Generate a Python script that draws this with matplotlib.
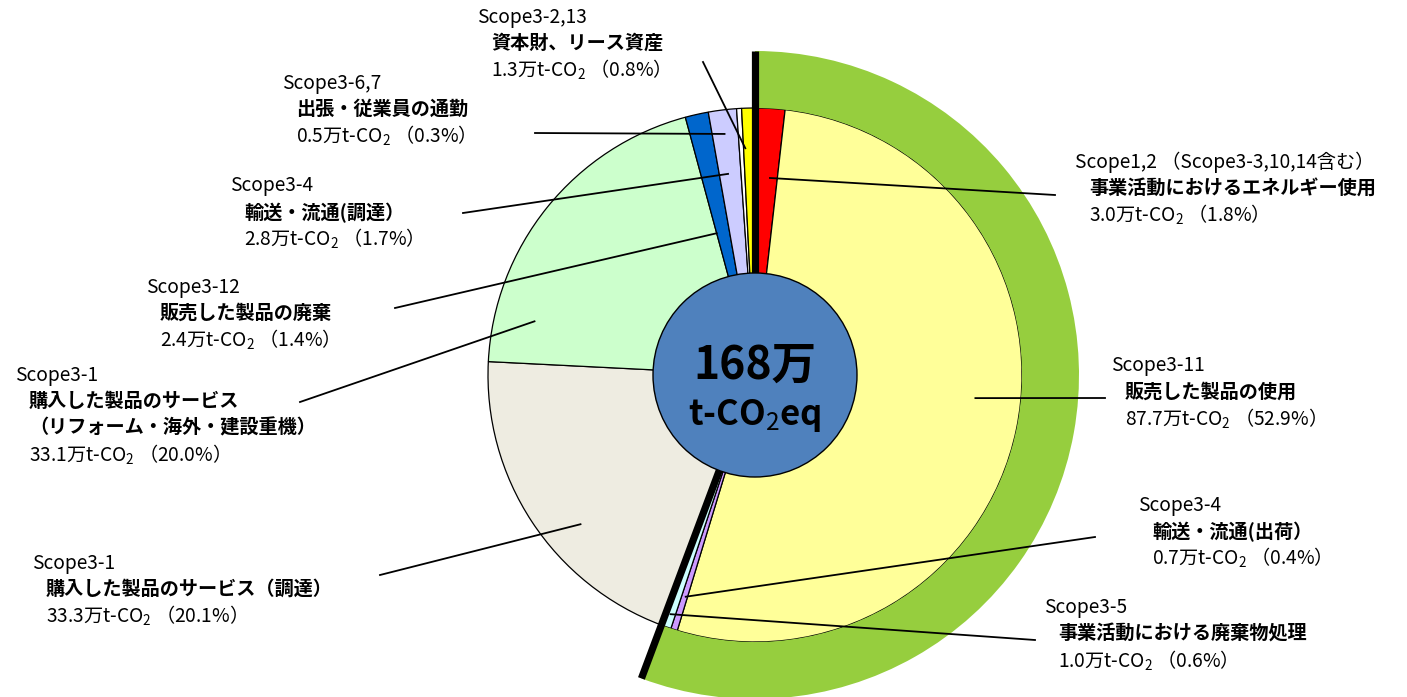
import matplotlib
matplotlib.use("Agg")
import matplotlib.pyplot as plt
from matplotlib.patches import Wedge, Circle
import numpy as np

plt.rcParams['font.family'] = ['Noto Sans CJK JP', 'DejaVu Sans']
plt.rcParams['mathtext.fontset'] = 'custom'
plt.rcParams['mathtext.rm'] = 'Noto Sans CJK JP'
plt.rcParams['mathtext.default'] = 'rm'

# shares in %, clockwise from the top
scopes = ["Scope1,2 （Scope3-3,10,14含む）", "Scope3-11", "Scope3-4", "Scope3-5",
          "Scope3-1", "Scope3-1", "Scope3-12", "Scope3-4", "Scope3-6,7", "Scope3-2,13"]
names = ["事業活動におけるエネルギー使用", "販売した製品の使用", "輸送・流通(出荷）",
         "事業活動における廃棄物処理", "購入した製品のサービス（調達）",
         "購入した製品のサービス\n（リフォーム・海外・建設重機）", "販売した製品の廃棄",
         "輸送・流通(調達）", "出張・従業員の通勤", "資本財、リース資産"]
amounts = ["3.0", "87.7", "0.7", "1.0", "33.3", "33.1", "2.4", "2.8", "0.5", "1.3"]
shares = [1.8, 52.9, 0.4, 0.6, 20.1, 20.0, 1.4, 1.7, 0.3, 0.8]
colors = ["#FF0000", "#FFFF99", "#CC99FF", "#CCFFFF", "#EEECE1",
          "#CCFFCC", "#0066CC", "#CCCCFF", "#FFFFFF", "#FFFF00"]
downstream = [0, 1, 2, 3]  # slices under the green ring
total = "168万"

W, H = 1407, 697
fig = plt.figure(figsize=(W / 100, H / 100), dpi=100)
ax = fig.add_axes([0, 0, 1, 1])

cx, cy = 755, H - 375
R = 267
R_out = 324

wedges, _ = ax.pie(shares, colors=colors, startangle=90, counterclock=False,
                   radius=R, center=(cx, cy),
                   wedgeprops=dict(edgecolor="black", linewidth=0.9))

# green ring over the downstream part
down = sum(shares[i] for i in downstream)
a_end = 90
a_start = 90 - down / 100 * 360
ax.add_patch(Wedge((cx, cy), R_out, a_start, a_end, width=R_out - R,
                   facecolor="#96CE3E", edgecolor="none", zorder=1))

# thick separators
r_c = 102
for a in (a_end, a_start):
    t = np.radians(a)
    ax.plot([cx + r_c * np.cos(t), cx + R_out * np.cos(t)],
            [cy + r_c * np.sin(t), cy + R_out * np.sin(t)],
            color="black", lw=5.2, solid_capstyle="butt", zorder=4)

ax.add_patch(Circle((cx, cy), r_c, facecolor="#4F81BD", edgecolor="black",
                    lw=1.0, zorder=5))
ax.text(cx, H - 366, total, ha="center", va="center", fontsize=32,
        fontweight="bold", zorder=6)
ax.text(cx, H - 415, "t-CO$_2$eq", ha="center", va="center", fontsize=25,
        fontweight="bold", zorder=6)

# label layout: text left x, first line y, leader start, tip (fraction in slice, radius fraction)
label_x = [1075, 1111, 1138, 1044, 32, 15, 146, 230, 282, 477]
label_y = [162, 366, 505, 608, 563, 375, 287, 186, 83, 17]
lead_start = [(1055, 195), (1105, 398), (1095, 537), (1035, 640), (380, 575),
              (300, 402), (395, 308), (463, 213), (535, 133), (703, 62)]
tip_f = [0.67, 0.47, 0.3, 0.5, 0.4, 0.15, 0.0, 0.4, -3.0, 0.15]
tip_r = [0.74, 0.83, 0.87, 0.95, 0.86, 0.85, 0.55, 0.76, 0.91, 0.85]

cum = np.concatenate([[0], np.cumsum(shares)])
fs = 13.8
lh = 26.5
for i in range(len(shares)):
    x0, y0 = label_x[i], label_y[i]
    ax.text(x0, H - y0, scopes[i], ha="left", va="center", fontsize=fs)
    nlines = names[i].split("\n")
    y = y0
    for ln in nlines:
        y += lh
        ax.text(x0 + 14, H - y, ln, ha="left", va="center", fontsize=fs,
                fontweight="bold")
    y += lh
    ax.text(x0 + 14, H - y, amounts[i] + "万t-CO$_2$ （" + f"{shares[i]:.1f}" + "%）",
            ha="left", va="center", fontsize=fs)
    frac = cum[i] + tip_f[i] * shares[i]
    t = np.radians(90 - frac / 100 * 360)
    tx = cx + tip_r[i] * R * np.cos(t)
    ty = cy + tip_r[i] * R * np.sin(t)
    sx, sy = lead_start[i]
    ax.plot([sx, tx], [H - sy, ty], color="black", lw=1.3, zorder=3)

ax.set_xlim(0, W)
ax.set_ylim(0, H)
ax.set_aspect("equal")
ax.axis("off")
fig.savefig("out.png", dpi=100)
